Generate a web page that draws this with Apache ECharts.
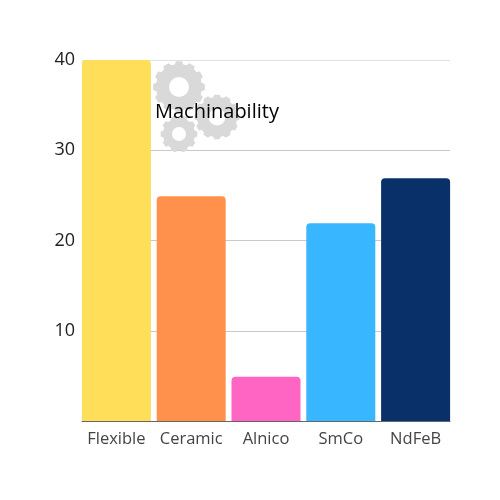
<!DOCTYPE html>
<html>
<head>
<meta charset="utf-8">
<style>html,body{margin:0;padding:0;background:#fff}#chart{width:500px;height:500px}</style>
<script src="https://cdn.jsdelivr.net/npm/echarts@6/dist/echarts.min.js"></script>
</head>
<body>
<div id="chart"></div>
<script>
var categories = ['Flexible', 'Ceramic', 'Alnico', 'SmCo', 'NdFeB'];
var values = [40, 24.9, 4.9, 21.9, 26.9];
var barColors = ['#FFDE59', '#FF914D', '#FF66C4', '#38B6FF', '#0A3069'];
var yTicks = [10, 20, 30, 40];

var myChart = echarts.init(document.getElementById('chart'));

// gear outline, flat teeth with sloped sides
function gearPoints(cx, cy, outer, inner, teeth) {
    var pts = [];
    var step = Math.PI * 2 / teeth;
    for (var i = 0; i < teeth; i++) {
        var a = i * step;
        [[-0.36, inner], [-0.22, outer], [0.22, outer], [0.36, inner]].forEach(function (p) {
            var t = a + p[0] * step;
            pts.push([cx + Math.cos(t) * p[1], cy + Math.sin(t) * p[1]]);
        });
    }
    return pts;
}

function gear(cx, cy, outer, inner, hole, teeth) {
    return [
        {type: 'polygon', z: 5, shape: {points: gearPoints(cx, cy, outer, inner, teeth)}, style: {fill: '#D9D9D9'}},
        {type: 'circle', z: 6, shape: {cx: cx, cy: cy, r: hole}, style: {fill: '#fff'}}
    ];
}

var graphics = []
    .concat(gear(179, 87, 26, 23, 10, 12))
    .concat(gear(217, 117, 22.5, 20, 8.5, 12))
    .concat(gear(179, 134, 18.5, 16, 7, 10));
graphics.push({
    type: 'text',
    z: 10,
    left: 155,
    top: 102,
    style: {text: 'Machinability', font: '20px "Open Sans"', fill: '#000'}
});

var option = {
    animation: false,
    backgroundColor: '#fff',
    // grid 0 carries the bars, grid 1 the shorter gridlines and baseline
    grid: [
        {left: 79, width: 374, top: 60, bottom: 79},
        {left: 82, right: 50, top: 60, bottom: 79}
    ],
    xAxis: [{
        type: 'category',
        gridIndex: 0,
        data: categories,
        axisTick: {show: false},
        axisLine: {show: false},
        axisLabel: {
            margin: 10,
            interval: 0,
            fontFamily: 'Open Sans',
            fontSize: 16.5,
            color: '#444'
        }
    }, {
        type: 'category',
        gridIndex: 1,
        data: categories,
        axisTick: {show: false},
        axisLabel: {show: false},
        axisLine: {lineStyle: {color: '#666', width: 1}}
    }],
    yAxis: [{
        type: 'value',
        gridIndex: 0,
        min: 0,
        max: 40,
        interval: 10,
        axisLine: {show: false},
        axisTick: {show: false},
        axisLabel: {show: false},
        splitLine: {show: false}
    }, {
        type: 'value',
        gridIndex: 1,
        min: 0,
        max: 40,
        interval: 10,
        axisLine: {show: false},
        axisTick: {show: false},
        axisLabel: {
            margin: 7,
            fontFamily: 'Open Sans',
            fontSize: 18,
            color: '#222',
            padding: [4, 0, 0, 0],
            formatter: function (v) {
                return yTicks.indexOf(v) >= 0 ? String(v) : '';
            }
        },
        splitLine: {lineStyle: {color: ['#C9C9C9', '#C9C9C9', '#C9C9C9', '#C9C9C9', '#E0E0E0'], width: 1}}
    }],
    series: [{
        type: 'bar',
        xAxisIndex: 0,
        yAxisIndex: 0,
        barWidth: 69,
        data: values.map(function (v, i) {
            return {value: v, itemStyle: {color: barColors[i]}};
        }),
        itemStyle: {borderRadius: [4, 4, 0, 0]}
    }],
    graphic: graphics
};

myChart.setOption(option);
</script>
</body>
</html>
